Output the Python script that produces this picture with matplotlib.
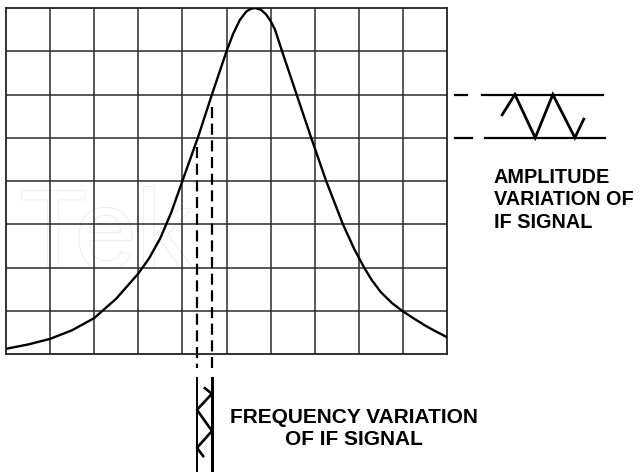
import matplotlib
matplotlib.use("Agg")
import matplotlib.pyplot as plt
import matplotlib.patheffects as pe
from matplotlib import font_manager

# ---- data (grid units: 10 columns x 8 rows) ----
n_cols = 10
n_rows = 8
curve_x = [0.0, 0.5, 1.0, 1.5, 2.0, 2.5, 3.0, 3.25, 3.5, 3.75, 4.0, 4.35, 4.67,
           5.0, 5.15, 5.3, 5.45, 5.55, 5.65,
           5.78, 5.9, 6.0, 6.1, 6.26, 6.59, 6.92, 7.26, 7.64, 7.9, 8.12,
           8.3, 8.5, 8.75, 8.98, 9.25, 9.5, 9.75, 10.0]
curve_y = [0.12, 0.22, 0.35, 0.55, 0.83, 1.28, 1.86, 2.22, 2.68, 3.28, 4.0, 5.0, 6.0,
           7.0, 7.4, 7.72, 7.92, 7.98, 8.0,
           7.96, 7.85, 7.7, 7.5, 7.0, 6.0, 5.0, 4.0, 3.0, 2.42, 2.0,
           1.7, 1.43, 1.18, 1.0, 0.82, 0.66, 0.52, 0.39]

# amplitude-variation levels and frequency-variation bounds
amp_levels = [5.0, 6.0]
freq_bounds = [4.33, 4.67]
dash_tops = [4.79, 5.71]

# amplitude inset (to the right of the graticule)
amp_line_x = [[10.79, 13.54], [10.86, 13.58]]          # for levels 6 and 5
amp_dash_x = [[10.18, 10.45], [10.18, 10.57]]
amp_zig_x = [11.25, 11.54, 12.0, 12.4, 12.9, 13.1]
amp_zig_y = [5.53, 6.0, 5.0, 6.0, 5.0, 5.43]

# frequency inset (below the graticule)
freq_box_y = [-0.55, -2.9]
freq_zig_x = [4.51, 4.67, 4.33, 4.67, 4.33, 4.47]
freq_zig_y = [-0.79, -0.92, -1.29, -1.78, -2.17, -2.36]

amp_text = ["AMPLITUDE", "VARIATION OF", "IF SIGNAL"]
freq_text = ["FREQUENCY VARIATION", "OF IF SIGNAL"]

# ---- figure ----
W, H = 640, 472
fig = plt.figure(figsize=(W / 100, H / 100), dpi=100)
fig.patch.set_facecolor("white")

names = {f.name for f in font_manager.fontManager.ttflist}
family = "Liberation Sans" if "Liberation Sans" in names else "DejaVu Sans"

ax = fig.add_axes([6 / W, 118 / H, 441 / W, 346 / H])
ax.set_xlim(0, n_cols)
ax.set_ylim(0, n_rows)
ax.set_xticks([])
ax.set_yticks([])
for s in ax.spines.values():
    s.set_linewidth(1.3)
    s.set_color("#222222")

grid_c = "#2b2b2b"
ax.vlines(range(1, n_cols), 0, n_rows, colors=grid_c, linewidth=1.1, zorder=1)
ax.hlines(range(1, n_rows), 0, n_cols, colors=grid_c, linewidth=1.1, zorder=1)

# faint watermark
ax.text(0.3, 2.0, "Tek", fontsize=80, color="white", family=family,
        path_effects=[pe.withStroke(linewidth=1.2, foreground="#ebebeb")],
        zorder=0.5)

# response curve
ax.plot(curve_x, curve_y, color="black", linewidth=1.7, zorder=3,
        solid_capstyle="round", solid_joinstyle="round")

# dashed projections down
for xb, yt in zip(freq_bounds, dash_tops):
    ax.plot([xb, xb], [yt, -0.32], color="black", linewidth=1.6,
            dashes=(5, 2.5), clip_on=False, zorder=3)

# frequency inset
ax.plot([freq_bounds[0]] * 2, freq_box_y, color="black", linewidth=1.4, clip_on=False)
ax.plot([freq_bounds[1]] * 2, freq_box_y, color="black", linewidth=2.2, clip_on=False)
ax.plot(freq_zig_x, freq_zig_y, color="black", linewidth=1.9, clip_on=False)

# amplitude inset
for lvl, lx, dx in zip(amp_levels[::-1], amp_line_x, amp_dash_x):
    ax.plot(lx, [lvl, lvl], color="black", linewidth=1.6, clip_on=False)
    ax.plot(dx, [lvl, lvl], color="black", linewidth=1.6, clip_on=False)
ax.plot(amp_zig_x, amp_zig_y, color="black", linewidth=2.0, clip_on=False,
        solid_joinstyle="miter")

# labels
def ftext(px, py, s, size, ha="left"):
    fig.text(px / W, 1 - py / H, s, ha=ha, va="baseline", fontsize=size,
             fontweight="bold", family=family, color="black")

for s, yb in zip(amp_text, [183, 205, 228]):
    ftext(494, yb, s, 14.3)
for s, yb in zip(freq_text, [423, 445]):
    ftext(354, yb, s, 15, ha="center")

fig.savefig("out.png", dpi=100, facecolor="white")
